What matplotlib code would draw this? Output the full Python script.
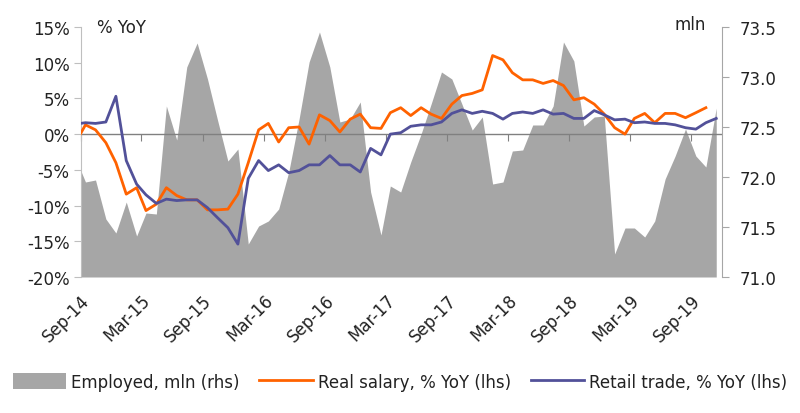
import matplotlib
matplotlib.use("Agg")
import matplotlib.pyplot as plt
import pandas as pd

# monthly data, Aug-14 .. Nov-19 (Aug-14 is clipped by the axis start)
employed = [72.2, 71.95, 71.97, 71.58, 71.44, 71.75, 71.41, 71.64, 71.63, 72.71,
            72.37, 73.10, 73.34, 72.98, 72.57, 72.16, 72.28, 71.33, 71.51, 71.56,
            71.68, 72.05, 72.58, 73.15, 73.45, 73.10, 72.55, 72.58, 72.75, 71.85,
            71.42, 71.91, 71.85, 72.15, 72.43, 72.73, 73.05, 72.98, 72.73, 72.47,
            72.60, 71.93, 71.95, 72.26, 72.27, 72.52, 72.52, 72.71, 73.35, 73.16,
            72.51, 72.60, 72.61, 71.23, 71.49, 71.49, 71.40, 71.56, 71.98, 72.21,
            72.48, 72.21, 72.10, 72.69]
real_salary = [-1.3, 1.3, 0.6, -1.2, -4.0, -8.4, -7.5, -10.7, -9.8, -7.5,
               -8.6, -9.2, -9.2, -10.6, -10.6, -10.5, -8.4, -4.0, 0.6, 1.5,
               -1.1, 0.9, 1.0, -1.4, 2.7, 1.9, 0.3, 2.1, 2.8, 0.9,
               0.8, 3.0, 3.7, 2.6, 3.7, 2.8, 2.2, 4.2, 5.4, 5.7,
               6.2, 11.0, 10.4, 8.6, 7.6, 7.6, 7.1, 7.5, 6.8, 4.8,
               5.1, 4.2, 2.8, 0.9, 0.0, 2.2, 2.9, 1.6, 2.9, 2.9,
               2.3, 3.0, 3.7]
retail = [1.4, 1.6, 1.5, 1.7, 5.3, -3.7, -7.0, -8.5, -9.7, -9.1,
          -9.3, -9.2, -9.2, -10.3, -11.7, -13.1, -15.4, -6.2, -3.7, -5.1,
          -4.3, -5.4, -5.1, -4.3, -4.3, -3.0, -4.3, -4.3, -5.3, -2.0,
          -2.9, 0.0, 0.2, 1.1, 1.3, 1.3, 1.7, 2.9, 3.4, 2.9,
          3.2, 2.9, 2.1, 2.9, 3.1, 2.9, 3.4, 2.8, 2.9, 2.2,
          2.2, 3.3, 2.7, 2.0, 2.1, 1.6, 1.7, 1.5, 1.5, 1.3,
          0.9, 0.7, 1.6, 2.2]

months = pd.date_range("2014-08-01", periods=len(employed), freq="MS") + pd.Timedelta(days=14)
tick_dates = pd.date_range("2014-09-01", "2019-09-01", freq="6MS")
tick_labels = [d.strftime("%b-%y") for d in tick_dates]

GREY = "#a6a6a6"
ORANGE = "#ff6200"
INDIGO = "#525199"
TXT = "#222222"

plt.rcParams["font.family"] = ["DejaVu Sans"]
plt.rcParams["font.size"] = 12

fig = plt.figure(figsize=(8, 4.14), dpi=100)
ax = fig.add_axes([0.101, 0.3285, 0.801, 0.6039])
ax2 = ax.twinx()

# area on the right axis
ax2.fill_between(months, 71.0, employed, color=GREY, lw=0, label="Employed, mln (rhs)")
ax2.set_ylim(71.0, 73.5)
ax2.set_yticks([71.0, 71.5, 72.0, 72.5, 73.0, 73.5])
ax2.set_yticklabels(["71.0", "71.5", "72.0", "72.5", "73.0", "73.5"])

# lines on the left axis, drawn on top
ax.set_zorder(ax2.get_zorder() + 1)
ax.patch.set_visible(False)
ax.axhline(0, color="#808080", lw=1, zorder=1)
ax.plot(months[:len(real_salary)], real_salary, color=ORANGE, lw=2, label="Real salary, % YoY (lhs)", zorder=3)
ax.plot(months, retail, color=INDIGO, lw=2, label="Retail trade, % YoY (lhs)", zorder=3)
ax.set_ylim(-20, 15)
ax.set_yticks(range(-20, 16, 5))
ax.set_yticklabels([f"{v}%" for v in range(-20, 16, 5)])

ax.set_xlim(pd.Timestamp("2014-09-01"), pd.Timestamp("2019-12-01"))
ax.set_xticks(tick_dates)
ax.set_xticklabels(tick_labels, rotation=45, ha="right", va="top", rotation_mode="anchor")
ax.tick_params(axis="x", length=0, pad=10, colors=TXT)

# short tick marks hanging from the 0% line
sec = ax.secondary_xaxis(4 / 7)
sec.set_xticks(tick_dates, labels=[""] * len(tick_dates))
sec.xaxis.set_ticks_position("bottom")
sec.tick_params(axis="x", direction="out", length=5, color="#808080",
                labelbottom=False, labeltop=False)
for s in sec.spines.values():
    s.set_visible(False)

for a in (ax, ax2):
    a.spines["top"].set_visible(False)
    a.spines["bottom"].set_visible(False)
ax.spines["right"].set_visible(False)
ax2.spines["left"].set_visible(False)
ax.spines["left"].set_color("#bfbfbf")
ax2.spines["right"].set_color("#a6a6a6")
ax.tick_params(axis="y", length=5, color="#bfbfbf", labelcolor=TXT, pad=3)
ax2.tick_params(axis="y", length=5, color="#a6a6a6", labelcolor=TXT, pad=8)

ax.text(0.025, 1.0, "% YoY", transform=ax.transAxes, ha="left", va="center", color=TXT)
ax.text(0.975, 1.01, "mln", transform=ax.transAxes, ha="right", va="center", color=TXT)

h2, l2 = ax2.get_legend_handles_labels()
h1, l1 = ax.get_legend_handles_labels()
fig.legend(h2 + h1, l2 + l1, loc="center", bbox_to_anchor=(0.5, 0.075), ncol=3,
           frameon=False, handlelength=3.2, handleheight=1.1, columnspacing=1.2,
           handletextpad=0.3, labelcolor=TXT)

fig.savefig("out.png", dpi=100)
